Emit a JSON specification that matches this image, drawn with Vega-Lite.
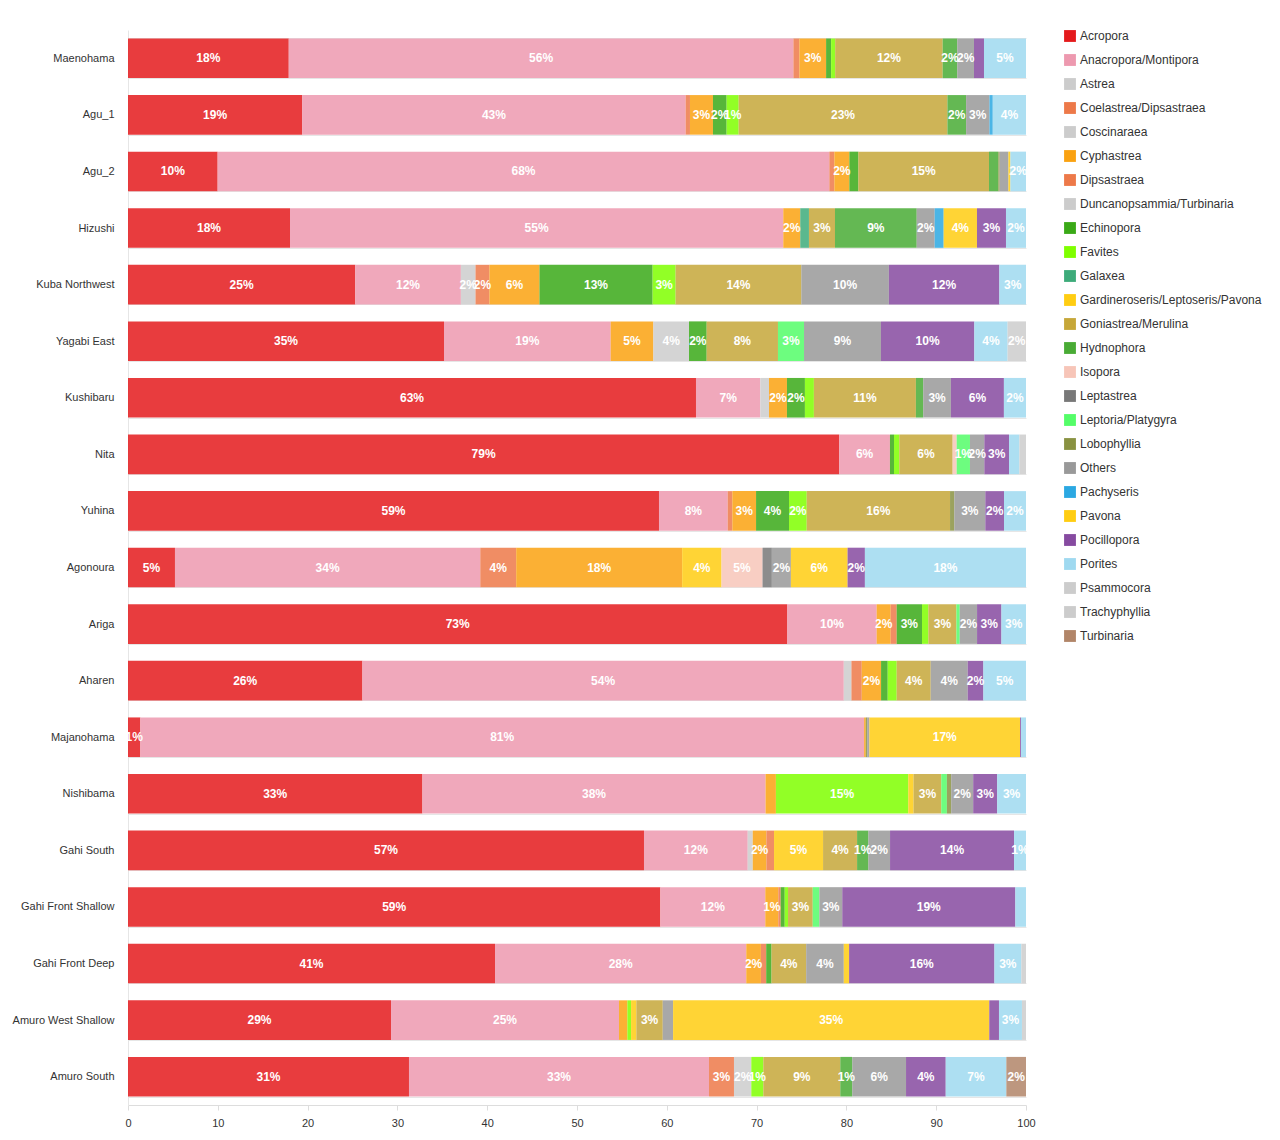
{
  "$schema": "https://vega.github.io/schema/vega-lite/v6.json",
  "width": 898,
  "height": 1075,
  "autosize": {"type": "none"},
  "padding": {"left": 128, "top": 30, "right": 254, "bottom": 35},
  "background": "white",
  "config": {"view": {"stroke": null}, "font": "Liberation Sans"},
  "data": {"values": [
    {"site":"Maenohama","genus":"Acropora","pct":17.9},
    {"site":"Maenohama","genus":"Anacropora/Montipora","pct":56.2},
    {"site":"Maenohama","genus":"Coelastrea/Dipsastraea","pct":0.67},
    {"site":"Maenohama","genus":"Cyphastrea","pct":2.97},
    {"site":"Maenohama","genus":"Echinopora","pct":0.56},
    {"site":"Maenohama","genus":"Favites","pct":0.45},
    {"site":"Maenohama","genus":"Goniastrea/Merulina","pct":11.97},
    {"site":"Maenohama","genus":"Hydnophora","pct":1.63},
    {"site":"Maenohama","genus":"Others","pct":1.86},
    {"site":"Maenohama","genus":"Pocillopora","pct":1.11},
    {"site":"Maenohama","genus":"Porites","pct":4.68},

    {"site":"Agu_1","genus":"Acropora","pct":19.4},
    {"site":"Agu_1","genus":"Anacropora/Montipora","pct":42.7},
    {"site":"Agu_1","genus":"Coelastrea/Dipsastraea","pct":0.48},
    {"site":"Agu_1","genus":"Cyphastrea","pct":2.56},
    {"site":"Agu_1","genus":"Echinopora","pct":1.52},
    {"site":"Agu_1","genus":"Favites","pct":1.34},
    {"site":"Agu_1","genus":"Goniastrea/Merulina","pct":23.25},
    {"site":"Agu_1","genus":"Hydnophora","pct":2.08},
    {"site":"Agu_1","genus":"Others","pct":2.6},
    {"site":"Agu_1","genus":"Pachyseris","pct":0.37},
    {"site":"Agu_1","genus":"Porites","pct":3.7},

    {"site":"Agu_2","genus":"Acropora","pct":9.98},
    {"site":"Agu_2","genus":"Anacropora/Montipora","pct":68.12},
    {"site":"Agu_2","genus":"Coelastrea/Dipsastraea","pct":0.56},
    {"site":"Agu_2","genus":"Cyphastrea","pct":1.67},
    {"site":"Agu_2","genus":"Echinopora","pct":1.0},
    {"site":"Agu_2","genus":"Goniastrea/Merulina","pct":14.55},
    {"site":"Agu_2","genus":"Hydnophora","pct":1.04},
    {"site":"Agu_2","genus":"Lobophyllia","pct":0.15},
    {"site":"Agu_2","genus":"Others","pct":0.97},
    {"site":"Agu_2","genus":"Pavona","pct":0.22},
    {"site":"Agu_2","genus":"Porites","pct":1.74},

    {"site":"Hizushi","genus":"Acropora","pct":18.04},
    {"site":"Hizushi","genus":"Anacropora/Montipora","pct":54.93},
    {"site":"Hizushi","genus":"Cyphastrea","pct":1.89},
    {"site":"Hizushi","genus":"Galaxea","pct":0.97},
    {"site":"Hizushi","genus":"Goniastrea/Merulina","pct":2.9},
    {"site":"Hizushi","genus":"Hydnophora","pct":9.1},
    {"site":"Hizushi","genus":"Others","pct":2.0},
    {"site":"Hizushi","genus":"Pachyseris","pct":1.0},
    {"site":"Hizushi","genus":"Pavona","pct":3.71},
    {"site":"Hizushi","genus":"Pocillopora","pct":3.23},
    {"site":"Hizushi","genus":"Porites","pct":2.23},

    {"site":"Kuba Northwest","genus":"Acropora","pct":25.3},
    {"site":"Kuba Northwest","genus":"Anacropora/Montipora","pct":11.77},
    {"site":"Kuba Northwest","genus":"Astrea","pct":1.63},
    {"site":"Kuba Northwest","genus":"Coelastrea/Dipsastraea","pct":1.55},
    {"site":"Kuba Northwest","genus":"Cyphastrea","pct":5.57},
    {"site":"Kuba Northwest","genus":"Echinopora","pct":12.6},
    {"site":"Kuba Northwest","genus":"Favites","pct":2.56},
    {"site":"Kuba Northwest","genus":"Goniastrea/Merulina","pct":14.0},
    {"site":"Kuba Northwest","genus":"Others","pct":9.75},
    {"site":"Kuba Northwest","genus":"Pocillopora","pct":12.3},
    {"site":"Kuba Northwest","genus":"Porites","pct":2.97},

    {"site":"Yagabi East","genus":"Acropora","pct":35.19},
    {"site":"Yagabi East","genus":"Anacropora/Montipora","pct":18.56},
    {"site":"Yagabi East","genus":"Cyphastrea","pct":4.75},
    {"site":"Yagabi East","genus":"Duncanopsammia/Turbinaria","pct":3.97},
    {"site":"Yagabi East","genus":"Echinopora","pct":1.97},
    {"site":"Yagabi East","genus":"Goniastrea/Merulina","pct":7.94},
    {"site":"Yagabi East","genus":"Leptoria/Platygyra","pct":2.9},
    {"site":"Yagabi East","genus":"Others","pct":8.57},
    {"site":"Yagabi East","genus":"Pocillopora","pct":10.39},
    {"site":"Yagabi East","genus":"Porites","pct":3.71},
    {"site":"Yagabi East","genus":"Psammocora","pct":2.05},

    {"site":"Kushibaru","genus":"Acropora","pct":63.25},
    {"site":"Kushibaru","genus":"Anacropora/Montipora","pct":7.16},
    {"site":"Kushibaru","genus":"Astrea","pct":0.97},
    {"site":"Kushibaru","genus":"Cyphastrea","pct":2.0},
    {"site":"Kushibaru","genus":"Echinopora","pct":2.0},
    {"site":"Kushibaru","genus":"Favites","pct":1.0},
    {"site":"Kushibaru","genus":"Goniastrea/Merulina","pct":11.36},
    {"site":"Kushibaru","genus":"Hydnophora","pct":0.82},
    {"site":"Kushibaru","genus":"Others","pct":3.08},
    {"site":"Kushibaru","genus":"Pocillopora","pct":5.9},
    {"site":"Kushibaru","genus":"Porites","pct":2.46},

    {"site":"Nita","genus":"Acropora","pct":79.2},
    {"site":"Nita","genus":"Anacropora/Montipora","pct":5.65},
    {"site":"Nita","genus":"Echinopora","pct":0.45},
    {"site":"Nita","genus":"Favites","pct":0.59},
    {"site":"Nita","genus":"Goniastrea/Merulina","pct":5.94},
    {"site":"Nita","genus":"Isopora","pct":0.45},
    {"site":"Nita","genus":"Leptoria/Platygyra","pct":1.48},
    {"site":"Nita","genus":"Others","pct":1.6},
    {"site":"Nita","genus":"Pocillopora","pct":2.75},
    {"site":"Nita","genus":"Porites","pct":1.15},
    {"site":"Nita","genus":"Trachyphyllia","pct":0.74},

    {"site":"Yuhina","genus":"Acropora","pct":59.13},
    {"site":"Yuhina","genus":"Anacropora/Montipora","pct":7.65},
    {"site":"Yuhina","genus":"Coelastrea/Dipsastraea","pct":0.52},
    {"site":"Yuhina","genus":"Cyphastrea","pct":2.64},
    {"site":"Yuhina","genus":"Echinopora","pct":3.67},
    {"site":"Yuhina","genus":"Favites","pct":1.97},
    {"site":"Yuhina","genus":"Goniastrea/Merulina","pct":15.96},
    {"site":"Yuhina","genus":"Lobophyllia","pct":0.48},
    {"site":"Yuhina","genus":"Others","pct":3.45},
    {"site":"Yuhina","genus":"Pocillopora","pct":2.08},
    {"site":"Yuhina","genus":"Porites","pct":2.45},

    {"site":"Agonoura","genus":"Acropora","pct":5.23},
    {"site":"Agonoura","genus":"Anacropora/Montipora","pct":34.0},
    {"site":"Agonoura","genus":"Coelastrea/Dipsastraea","pct":4.0},
    {"site":"Agonoura","genus":"Cyphastrea","pct":18.48},
    {"site":"Agonoura","genus":"Gardineroseris/Leptoseris/Pavona","pct":4.38},
    {"site":"Agonoura","genus":"Isopora","pct":4.57},
    {"site":"Agonoura","genus":"Leptastrea","pct":1.04},
    {"site":"Agonoura","genus":"Others","pct":2.12},
    {"site":"Agonoura","genus":"Pavona","pct":6.31},
    {"site":"Agonoura","genus":"Pocillopora","pct":1.93},
    {"site":"Agonoura","genus":"Porites","pct":17.94},

    {"site":"Ariga","genus":"Acropora","pct":73.42},
    {"site":"Ariga","genus":"Anacropora/Montipora","pct":9.95},
    {"site":"Ariga","genus":"Cyphastrea","pct":1.56},
    {"site":"Ariga","genus":"Dipsastraea","pct":0.67},
    {"site":"Ariga","genus":"Echinopora","pct":2.82},
    {"site":"Ariga","genus":"Favites","pct":0.71},
    {"site":"Ariga","genus":"Goniastrea/Merulina","pct":3.12},
    {"site":"Ariga","genus":"Leptoria/Platygyra","pct":0.37},
    {"site":"Ariga","genus":"Others","pct":1.93},
    {"site":"Ariga","genus":"Pocillopora","pct":2.71},
    {"site":"Ariga","genus":"Porites","pct":2.74},

    {"site":"Aharen","genus":"Acropora","pct":26.1},
    {"site":"Aharen","genus":"Anacropora/Montipora","pct":53.61},
    {"site":"Aharen","genus":"Astrea","pct":0.85},
    {"site":"Aharen","genus":"Coelastrea/Dipsastraea","pct":1.15},
    {"site":"Aharen","genus":"Cyphastrea","pct":2.15},
    {"site":"Aharen","genus":"Echinopora","pct":0.74},
    {"site":"Aharen","genus":"Favites","pct":1.0},
    {"site":"Aharen","genus":"Goniastrea/Merulina","pct":3.79},
    {"site":"Aharen","genus":"Others","pct":4.12},
    {"site":"Aharen","genus":"Pocillopora","pct":1.74},
    {"site":"Aharen","genus":"Porites","pct":4.75},

    {"site":"Majanohama","genus":"Acropora","pct":1.37},
    {"site":"Majanohama","genus":"Anacropora/Montipora","pct":80.6},
    {"site":"Majanohama","genus":"Cyphastrea","pct":0.19},
    {"site":"Majanohama","genus":"Lobophyllia","pct":0.15},
    {"site":"Majanohama","genus":"Others","pct":0.25},
    {"site":"Majanohama","genus":"Pavona","pct":16.78},
    {"site":"Majanohama","genus":"Pocillopora","pct":0.1},
    {"site":"Majanohama","genus":"Porites","pct":0.56},

    {"site":"Nishibama","genus":"Acropora","pct":32.78},
    {"site":"Nishibama","genus":"Anacropora/Montipora","pct":38.22},
    {"site":"Nishibama","genus":"Cyphastrea","pct":1.15},
    {"site":"Nishibama","genus":"Favites","pct":14.74},
    {"site":"Nishibama","genus":"Gardineroseris/Leptoseris/Pavona","pct":0.59},
    {"site":"Nishibama","genus":"Goniastrea/Merulina","pct":3.08},
    {"site":"Nishibama","genus":"Leptoria/Platygyra","pct":0.63},
    {"site":"Nishibama","genus":"Lobophyllia","pct":0.48},
    {"site":"Nishibama","genus":"Others","pct":2.45},
    {"site":"Nishibama","genus":"Pocillopora","pct":2.67},
    {"site":"Nishibama","genus":"Porites","pct":3.21},

    {"site":"Gahi South","genus":"Acropora","pct":57.46},
    {"site":"Gahi South","genus":"Anacropora/Montipora","pct":11.55},
    {"site":"Gahi South","genus":"Astrea","pct":0.56},
    {"site":"Gahi South","genus":"Cyphastrea","pct":1.52},
    {"site":"Gahi South","genus":"Dipsastraea","pct":0.85},
    {"site":"Gahi South","genus":"Gardineroseris/Leptoseris/Pavona","pct":5.46},
    {"site":"Gahi South","genus":"Goniastrea/Merulina","pct":3.79},
    {"site":"Gahi South","genus":"Hydnophora","pct":1.26},
    {"site":"Gahi South","genus":"Others","pct":2.41},
    {"site":"Gahi South","genus":"Pocillopora","pct":13.81},
    {"site":"Gahi South","genus":"Porites","pct":1.33},

    {"site":"Gahi Front Shallow","genus":"Acropora","pct":59.28},
    {"site":"Gahi Front Shallow","genus":"Anacropora/Montipora","pct":11.69},
    {"site":"Gahi Front Shallow","genus":"Cyphastrea","pct":1.45},
    {"site":"Gahi Front Shallow","genus":"Dipsastraea","pct":0.26},
    {"site":"Gahi Front Shallow","genus":"Echinopora","pct":0.45},
    {"site":"Gahi Front Shallow","genus":"Favites","pct":0.37},
    {"site":"Gahi Front Shallow","genus":"Goniastrea/Merulina","pct":2.75},
    {"site":"Gahi Front Shallow","genus":"Leptoria/Platygyra","pct":0.74},
    {"site":"Gahi Front Shallow","genus":"Others","pct":2.55},
    {"site":"Gahi Front Shallow","genus":"Pocillopora","pct":19.27},
    {"site":"Gahi Front Shallow","genus":"Porites","pct":1.19},

    {"site":"Gahi Front Deep","genus":"Acropora","pct":40.87},
    {"site":"Gahi Front Deep","genus":"Anacropora/Montipora","pct":27.98},
    {"site":"Gahi Front Deep","genus":"Cyphastrea","pct":1.63},
    {"site":"Gahi Front Deep","genus":"Dipsastraea","pct":0.59},
    {"site":"Gahi Front Deep","genus":"Echinopora","pct":0.59},
    {"site":"Gahi Front Deep","genus":"Goniastrea/Merulina","pct":3.86},
    {"site":"Gahi Front Deep","genus":"Others","pct":4.19},
    {"site":"Gahi Front Deep","genus":"Pavona","pct":0.59},
    {"site":"Gahi Front Deep","genus":"Pocillopora","pct":16.18},
    {"site":"Gahi Front Deep","genus":"Porites","pct":3.0},
    {"site":"Gahi Front Deep","genus":"Psammocora","pct":0.52},

    {"site":"Amuro West Shallow","genus":"Acropora","pct":29.29},
    {"site":"Amuro West Shallow","genus":"Anacropora/Montipora","pct":25.39},
    {"site":"Amuro West Shallow","genus":"Cyphastrea","pct":0.93},
    {"site":"Amuro West Shallow","genus":"Favites","pct":0.41},
    {"site":"Amuro West Shallow","genus":"Gardineroseris/Leptoseris/Pavona","pct":0.59},
    {"site":"Amuro West Shallow","genus":"Goniastrea/Merulina","pct":2.94},
    {"site":"Amuro West Shallow","genus":"Others","pct":1.15},
    {"site":"Amuro West Shallow","genus":"Pavona","pct":35.21},
    {"site":"Amuro West Shallow","genus":"Pocillopora","pct":1.08},
    {"site":"Amuro West Shallow","genus":"Porites","pct":2.56},
    {"site":"Amuro West Shallow","genus":"Psammocora","pct":0.45},

    {"site":"Amuro South","genus":"Acropora","pct":31.29},
    {"site":"Amuro South","genus":"Anacropora/Montipora","pct":33.41},
    {"site":"Amuro South","genus":"Coelastrea/Dipsastraea","pct":2.78},
    {"site":"Amuro South","genus":"Coscinaraea","pct":1.93},
    {"site":"Amuro South","genus":"Favites","pct":1.34},
    {"site":"Amuro South","genus":"Goniastrea/Merulina","pct":8.57},
    {"site":"Amuro South","genus":"Hydnophora","pct":1.34},
    {"site":"Amuro South","genus":"Others","pct":5.98},
    {"site":"Amuro South","genus":"Pocillopora","pct":4.42},
    {"site":"Amuro South","genus":"Porites","pct":6.75},
    {"site":"Amuro South","genus":"Turbinaria","pct":2.19}
  ]},
  "transform": [
    {"stack": "pct", "groupby": ["site"], "sort": [{"field": "genus", "order": "ascending"}], "as": ["x0", "x1"]},
    {"calculate": "(datum.x0 + datum.x1) / 2", "as": "xmid"},
    {"calculate": "format(datum.pct, '.0f') + '%'", "as": "label"}
  ],
  "encoding": {
    "y": {
      "field": "site",
      "type": "nominal",
      "sort": ["Maenohama","Agu_1","Agu_2","Hizushi","Kuba Northwest","Yagabi East","Kushibaru","Nita","Yuhina","Agonoura","Ariga","Aharen","Majanohama","Nishibama","Gahi South","Gahi Front Shallow","Gahi Front Deep","Amuro West Shallow","Amuro South"],
      "scale": {"paddingInner": 0.3, "paddingOuter": 0.15},
      "axis": {
        "title": null,
        "labelFontSize": 11,
        "labelColor": "#333333",
        "labelFont": "Liberation Sans",
        "ticks": false,
        "tickSize": 0,
        "labelPadding": 14,
        "domain": true,
        "domainColor": "#e6e6e6",
        "grid": true,
        "gridColor": "#e6e6e6",
        "tickBand": "extent",
        "labelLimit": 200
      }
    }
  },
  "layer": [
    {
      "mark": {"type": "bar", "opacity": 0.85},
      "encoding": {
        "x": {
          "field": "x0",
          "type": "quantitative",
          "scale": {"domain": [0, 100], "nice": false},
          "axis": {
            "title": null,
            "grid": false,
            "values": [0,10,20,30,40,50,60,70,80,90,100],
            "labelFontSize": 11,
            "labelColor": "#333333",
            "labelFont": "Liberation Sans",
            "domainColor": "#dddddd",
            "tickColor": "#dddddd",
            "tickSize": 5,
            "labelPadding": 7,
            "labelFlush": false
          }
        },
        "x2": {"field": "x1"},
        "color": {
          "field": "genus",
          "type": "nominal",
          "scale": {
            "domain": ["Acropora","Anacropora/Montipora","Astrea","Coelastrea/Dipsastraea","Coscinaraea","Cyphastrea","Dipsastraea","Duncanopsammia/Turbinaria","Echinopora","Favites","Galaxea","Gardineroseris/Leptoseris/Pavona","Goniastrea/Merulina","Hydnophora","Isopora","Leptastrea","Leptoria/Platygyra","Lobophyllia","Others","Pachyseris","Pavona","Pocillopora","Porites","Psammocora","Trachyphyllia","Turbinaria"],
            "range": ["#e41a1c","#ed99af","#cccccc","#ed7949","#cccccc","#faa211","#ed7949","#cccccc","#3aa917","#7fff00","#3dab7a","#ffcd12","#c6a739","#49ab35","#f7c5b8","#787878","#54fd68","#899242","#999999","#2ba8e2","#ffcd12","#864aa0","#9fd9f0","#cccccc","#cccccc","#b18568"]
          },
          "legend": {
            "title": null,
            "orient": "right",
            "offset": 38,
            "padding": 0,
            "symbolType": "square",
            "symbolSize": 140,
            "symbolOpacity": 1,
            "symbolStrokeWidth": 0,
            "labelFontSize": 12,
            "labelColor": "#333333",
            "labelFont": "Liberation Sans",
            "labelOffset": 4,
            "rowPadding": 12,
            "labelLimit": 250
          }
        }
      }
    },
    {
      "transform": [{"filter": "datum.pct >= 1.2"}],
      "mark": {"type": "text", "color": "white", "font": "Liberation Sans", "fontWeight": "bold", "fontSize": 12, "baseline": "middle", "align": "center"},
      "encoding": {
        "x": {"field": "xmid", "type": "quantitative"},
        "text": {"field": "label", "type": "nominal"}
      }
    }
  ]
}
